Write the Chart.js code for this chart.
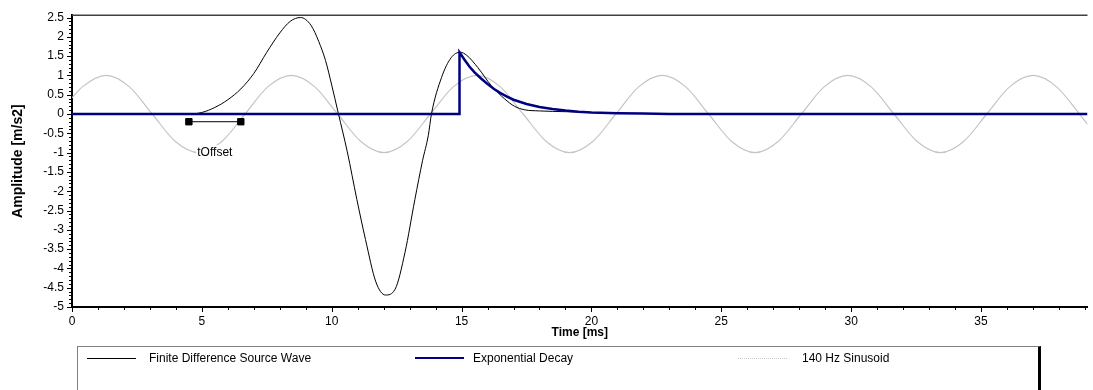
<!DOCTYPE html>
<html lang="en">
<head>
    <meta charset="UTF-8">
    <title>Source Wave</title>
    <script src="https://cdn.jsdelivr.net/npm/chart.js"></script>
    <style>
        body { margin: 0; background: #fff; font-family: "Liberation Sans", Arial, sans-serif; }
        .wrap { position: relative; width: 1093px; height: 390px; overflow: hidden; }
        .legend {
            position: absolute; left: 77px; top: 346px; width: 964px; height: 60px;
            border: 1px solid #808080; border-right: 3px solid #000; box-sizing: border-box;
            font-size: 12px; color: #000;
        }
        .item { position: absolute; top: 4px; display: flex; align-items: center; height: 14px; }
        .swatch { width: 49px; margin-right: 13px; }
    </style>
</head>
<body>
    <div class="wrap">
        <canvas id="chart" width="1093" height="390"></canvas>

        <!-- Legend box -->
        <div class="legend">
            <div class="item" style="left:9px"><span class="swatch" style="border-top:1px solid #000"></span>Finite Difference Source Wave</div>
            <div class="item" style="left:337px"><span class="swatch" style="border-top:2px solid #000080; margin-right:9px"></span>Exponential Decay</div>
            <div class="item" style="left:660px"><span class="swatch" style="border-top:1px dotted #c8c8c8; margin-right:15px"></span>140 Hz Sinusoid</div>
        </div>
    </div>

    <script>
        // Finite difference source wave (time ms, amplitude m/s2)
        const srcTime = [0, 4.49, 5.0, 5.5, 6.0, 6.5, 7.0, 7.5, 8.0, 8.4, 8.8, 9.2, 9.5, 9.76, 10.0, 10.25,
            10.6, 10.97, 11.3, 11.7, 12.07, 12.44, 12.82, 13.2, 13.5, 13.72, 13.84, 14.23, 14.6, 14.95,
            15.2, 15.63, 16.15, 16.66, 17.04, 17.42, 18.0, 19.0, 20.0, 21.0, 22.2];
        const srcAmp = [0, 0, 0.04, 0.17, 0.37, 0.65, 1.05, 1.6, 2.1, 2.4, 2.5, 2.3, 1.88, 1.39, 0.75, 0.03,
            -0.98, -2.22, -3.25, -4.35, -4.69, -4.54, -3.59, -2.22, -1.2, -0.55, 0, 0.95, 1.46, 1.6,
            1.52, 1.2, 0.73, 0.39, 0.2, 0.11, 0.08, 0.06, 0.04, 0.02, 0.01];

        // Exponential decay
        const decTime = [0, 14.92, 14.92, 15.1, 15.3, 15.5, 15.75, 16.0, 16.25, 16.5, 16.75, 17.0, 17.5,
            18.0, 18.5, 19.0, 19.5, 20.0, 21.0, 22.0, 23.0, 39.1];
        const decAmp = [0, 0, 1.6, 1.42, 1.23, 1.08, 0.92, 0.78, 0.65, 0.54, 0.45, 0.37, 0.26,
            0.18, 0.13, 0.09, 0.06, 0.04, 0.02, 0.01, 0, 0];

        // 140 Hz sinusoid
        const sinTime = [0, 0.41, 1.31, 2.2, 3.09, 3.98, 4.88, 5.77, 6.66, 7.55, 8.45, 9.34, 10.23,
            11.12, 12.02, 12.91, 13.8, 14.69, 15.59, 16.48, 17.37, 18.26, 19.16, 20.05, 20.94,
            21.83, 22.73, 23.62, 24.51, 25.4, 26.3, 27.19, 28.08, 28.97, 29.87, 30.76, 31.65,
            32.54, 33.44, 34.33, 35.22, 36.11, 37.01, 37.9, 38.79, 39.1];
        const sinAmp = [0.42, 0.71, 1, 0.71, 0, -0.71, -1, -0.71, 0, 0.71, 1, 0.71, 0,
            -0.71, -1, -0.71, 0, 0.71, 1, 0.71, 0, -0.71, -1, -0.71, 0,
            0.71, 1, 0.71, 0, -0.71, -1, -0.71, 0, 0.71, 1, 0.71, 0,
            -0.71, -1, -0.71, 0, 0.71, 1, 0.71, 0, -0.27];

        // tOffset marker
        const offsetTime = [4.5, 6.5];
        const offsetAmp = [-0.2, -0.2];
        const offsetLabel = 'tOffset';

        // Axes
        const xTicks = [0, 5, 10, 15, 20, 25, 30, 35];
        const yTicks = [2.5, 2, 1.5, 1, 0.5, 0, -0.5, -1, -1.5, -2, -2.5, -3, -3.5, -4, -4.5, -5];
        const xMinorStep = 1;
        const yMinorStep = 0.1;

        const pts = (xs, ys) => xs.map((v, i) => ({ x: v, y: ys[i] }));
        const font = { family: '"Liberation Sans", Arial, sans-serif', size: 12 };

        // Minor/major tick marks, top frame line and the tOffset label
        const framePlugin = {
            id: 'frame',
            afterDraw(chart) {
                const { ctx, chartArea: a, scales: { x, y } } = chart;
                ctx.save();
                ctx.strokeStyle = '#404040';
                ctx.lineWidth = 1.5;
                ctx.beginPath();
                ctx.moveTo(a.left, a.top);
                ctx.lineTo(a.right, a.top);
                ctx.stroke();

                ctx.strokeStyle = '#000';
                ctx.lineWidth = 1;
                ctx.beginPath();
                for (let v = x.min; v <= x.max + 1e-9; v += xMinorStep) {
                    const p = Math.round(x.getPixelForValue(v)) + 0.5;
                    const len = xTicks.includes(Math.round(v)) ? 5 : 3;
                    ctx.moveTo(p, a.bottom);
                    ctx.lineTo(p, a.bottom + len);
                }
                for (let i = 0; i <= Math.round((2.5 - y.min) / yMinorStep); i++) {
                    const v = y.min + i * yMinorStep;
                    const p = Math.round(y.getPixelForValue(v)) + 0.5;
                    const len = i % 5 === 0 ? 5 : 3;
                    ctx.moveTo(a.left - len, p);
                    ctx.lineTo(a.left, p);
                }
                ctx.stroke();

                // tOffset label
                const lx = x.getPixelForValue((offsetTime[0] + offsetTime[1]) / 2);
                const ly = y.getPixelForValue(-0.99);
                ctx.font = '12px "Liberation Sans", Arial, sans-serif';
                const w = ctx.measureText(offsetLabel).width;
                ctx.fillStyle = '#fff';
                ctx.fillRect(lx - w / 2 - 1, ly - 7, w + 2, 14);
                ctx.fillStyle = '#000';
                ctx.textAlign = 'center';
                ctx.textBaseline = 'middle';
                ctx.fillText(offsetLabel, lx, ly);
                ctx.restore();
            }
        };

        new Chart(document.getElementById('chart'), {
            type: 'line',
            data: {
                datasets: [
                    {
                        label: 'Exponential Decay',
                        data: pts(decTime, decAmp),
                        borderColor: '#000080',
                        borderWidth: 2.5,
                        pointRadius: 0,
                        tension: 0,
                        order: 0
                    },
                    {
                        label: 'Finite Difference Source Wave',
                        data: pts(srcTime, srcAmp),
                        borderColor: '#000',
                        borderWidth: 1,
                        pointRadius: 0,
                        cubicInterpolationMode: 'monotone',
                        order: 1
                    },
                    {
                        label: 'tOffset',
                        data: pts(offsetTime, offsetAmp),
                        borderColor: '#000',
                        borderWidth: 1,
                        pointStyle: 'rect',
                        pointRadius: 4.5,
                        pointBackgroundColor: '#000',
                        order: 1
                    },
                    {
                        label: '140 Hz Sinusoid',
                        data: pts(sinTime, sinAmp),
                        borderColor: '#c4c4c4',
                        borderWidth: 1.2,
                        pointRadius: 0,
                        cubicInterpolationMode: 'monotone',
                        order: 2
                    }
                ]
            },
            options: {
                responsive: false,
                animation: false,
                layout: { padding: { top: 15, right: 0, left: 0, bottom: 0 } },
                plugins: {
                    legend: { display: false },
                    tooltip: { enabled: false }
                },
                scales: {
                    x: {
                        type: 'linear',
                        min: 0,
                        max: 39.1,
                        afterBuildTicks: s => { s.ticks = xTicks.map(v => ({ value: v })); },
                        afterFit: s => { s.height = 83; },
                        grid: { display: false, drawTicks: false },
                        border: { display: true, color: '#000', width: 2 },
                        ticks: { padding: 7, color: '#000', font, maxRotation: 0, autoSkip: false, callback: v => String(v) },
                        title: {
                            display: true,
                            text: 'Time [ms]',
                            color: '#000',
                            font: { family: font.family, size: 12, weight: 'bold' },
                            padding: { top: 0, bottom: 50 }
                        }
                    },
                    y: {
                        min: -5,
                        max: 2.56,
                        afterBuildTicks: s => { s.ticks = yTicks.map(v => ({ value: v })); },
                        afterFit: s => { s.width = 72; },
                        grid: { display: false, drawTicks: false },
                        border: { display: true, color: '#000', width: 2 },
                        ticks: { padding: 8, color: '#000', font, autoSkip: false, callback: v => String(v) },
                        title: {
                            display: true,
                            text: 'Amplitude [m/s2]',
                            color: '#000',
                            font: { family: font.family, size: 14, weight: 'bold' },
                            padding: { top: 10, bottom: 0 }
                        }
                    }
                }
            },
            plugins: [framePlugin]
        });
    </script>
</body>
</html>
